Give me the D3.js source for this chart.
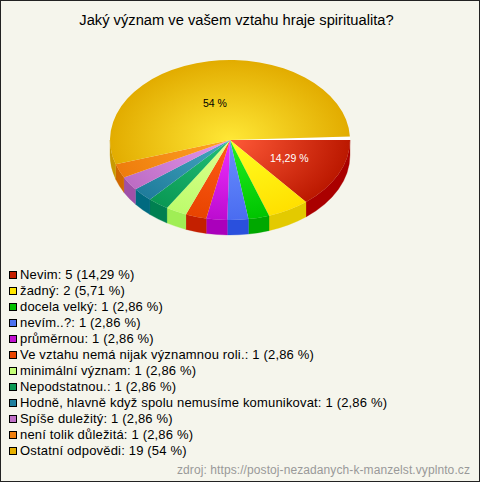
<!DOCTYPE html>
<html><head><meta charset="utf-8">
<script src="https://cdn.jsdelivr.net/npm/d3@7"></script>
<style>html,body{margin:0;padding:0;background:#f5f5ec}svg{display:block}text{font-family:"Liberation Sans",Arial,sans-serif}</style>
</head><body><div id="c"></div>
<script>
const titleText="Jaký význam ve vašem vztahu hraje spiritualita?";
const sourceText="zdroj: https://postoj-nezadanych-k-manzelst.vyplnto.cz";
const categories=["Nevim","žadný","docela velký","nevím..?","průměrnou","Ve vztahu nemá nijak významnou roli.","minimální význam","Nepodstatnou.","Hodně, hlavně když spolu nemusíme komunikovat","Spíše duležitý","není tolik důležitá","Ostatní odpovědi"];
const values=[5,2,1,1,1,1,1,1,1,1,1,19];
const percents=["14,29","5,71","2,86","2,86","2,86","2,86","2,86","2,86","2,86","2,86","2,86","54"];
const swatch=["#c41e00","#ffe600","#00c000","#4a70f0","#c010d0","#e84400","#c4ff78","#0a9a55","#1f7f9f","#c070c8","#f08010","#e6b000"];
const inner=["#ff5a38","#ffff22","#22f022","#6a90ff","#f030ff","#ff5c18","#e0ff90","#22c078","#46a8c0","#e498ec","#ffa424","#ffe836"];
const outer=["#bb1800","#ffe000","#00c400","#4a6cf0","#bc0cd0","#e84400","#bcfc6c","#0a9854","#1f7c9c","#bc6cc4","#ee7c0c","#e2ac00"];
const side=["#aa0000","#e3ca00","#00a800","#2a50dd","#aa00bb","#c42000","#a0ee55","#008050","#006a80","#a050a8","#d06800","#c89a00"];
const sliceLabels={0:"14,29 %",11:"54 %"};
const labelNudge={0:[5,1],11:[-4.5,2]};

const W=480,H=482,cx=230,cy=140,rx=120,ry=80,depth=15,gap=0.045,span=0.986;
const svg=d3.select("#c").append("svg").attr("width",W).attr("height",H);
svg.append("rect").attr("x",.5).attr("y",.5).attr("width",W-1).attr("height",H-1).attr("fill","#f5f5ec").attr("stroke","#222");
svg.append("text").attr("x",236.5).attr("y",25).attr("text-anchor","middle").attr("font-size",14.7).attr("fill","#000").text(titleText);

const defs=svg.append("defs");
const start=Math.PI/2;
const arcs=d3.pie().sort(null).startAngle(start).endAngle(start+2*Math.PI*span)(values);
arcs[arcs.length-1].endAngle=start+2*Math.PI-gap;
arcs.forEach((a,i)=>{
  const g=defs.append("radialGradient").attr("id","g"+i).attr("gradientUnits","userSpaceOnUse").attr("cx",0).attr("cy",0).attr("r",rx);
  g.append("stop").attr("offset",0).attr("stop-color",inner[i]);
  g.append("stop").attr("offset",1).attr("stop-color",outer[i]);
});
const px=t=>Math.sin(t)*rx, py=t=>-Math.cos(t)*ry;
const gPie=svg.append("g").attr("transform",`translate(${cx},${cy})`);
arcs.forEach((a,i)=>{
  const s=Math.max(a.startAngle,Math.PI/2), e=Math.min(a.endAngle,3*Math.PI/2);
  if(e<=s) return;
  const d=`M${px(s)},${py(s)}A${rx},${ry} 0 0 1 ${px(e)},${py(e)}L${px(e)},${py(e)+depth}A${rx},${ry} 0 0 0 ${px(s)},${py(s)+depth}Z`;
  gPie.append("path").attr("d",d).attr("fill",side[i]).attr("stroke",side[i]).attr("stroke-width",.3);
});
const arcGen=d3.arc().innerRadius(0).outerRadius(rx);
const topFace=gPie.append("g").attr("transform",`scale(1,${ry/rx})`);
topFace.append("path").attr("d",arcGen({startAngle:start-gap,endAngle:start})).attr("fill","#fff");
arcs.forEach((a,i)=>{
  topFace.append("path").attr("d",arcGen(a)).attr("fill",`url(#g${i})`);
});
const labelArc=d3.arc().innerRadius(rx).outerRadius(0);
arcs.forEach((a,i)=>{
  if(!sliceLabels[i]) return;
  const [x,y]=labelArc.centroid(a);
  gPie.append("text").attr("x",x+labelNudge[i][0]).attr("y",y*ry/rx+4+labelNudge[i][1])
    .attr("text-anchor","middle").attr("font-size",10.5).attr("fill",i==0?"#fff":"#000").text(sliceLabels[i]);
});
const rowY=d3.scaleLinear().domain([0,categories.length-1]).range([274.5,450.5]);
const leg=svg.append("g");
categories.forEach((c,i)=>{
  leg.append("rect").attr("x",9.5).attr("y",rowY(i)-3).attr("width",7).attr("height",7).attr("fill",swatch[i]).attr("stroke","#000");
  leg.append("text").attr("x",20).attr("y",rowY(i)+4.5).attr("font-size",13).attr("letter-spacing",0.18).attr("fill","#000").text(`${c}: ${values[i]} (${percents[i]} %)`);
});
svg.append("text").attr("x",470).attr("y",473.5).attr("text-anchor","end").attr("font-size",12).attr("letter-spacing",0.09).attr("fill","#999").text(sourceText);
</script></body></html>
